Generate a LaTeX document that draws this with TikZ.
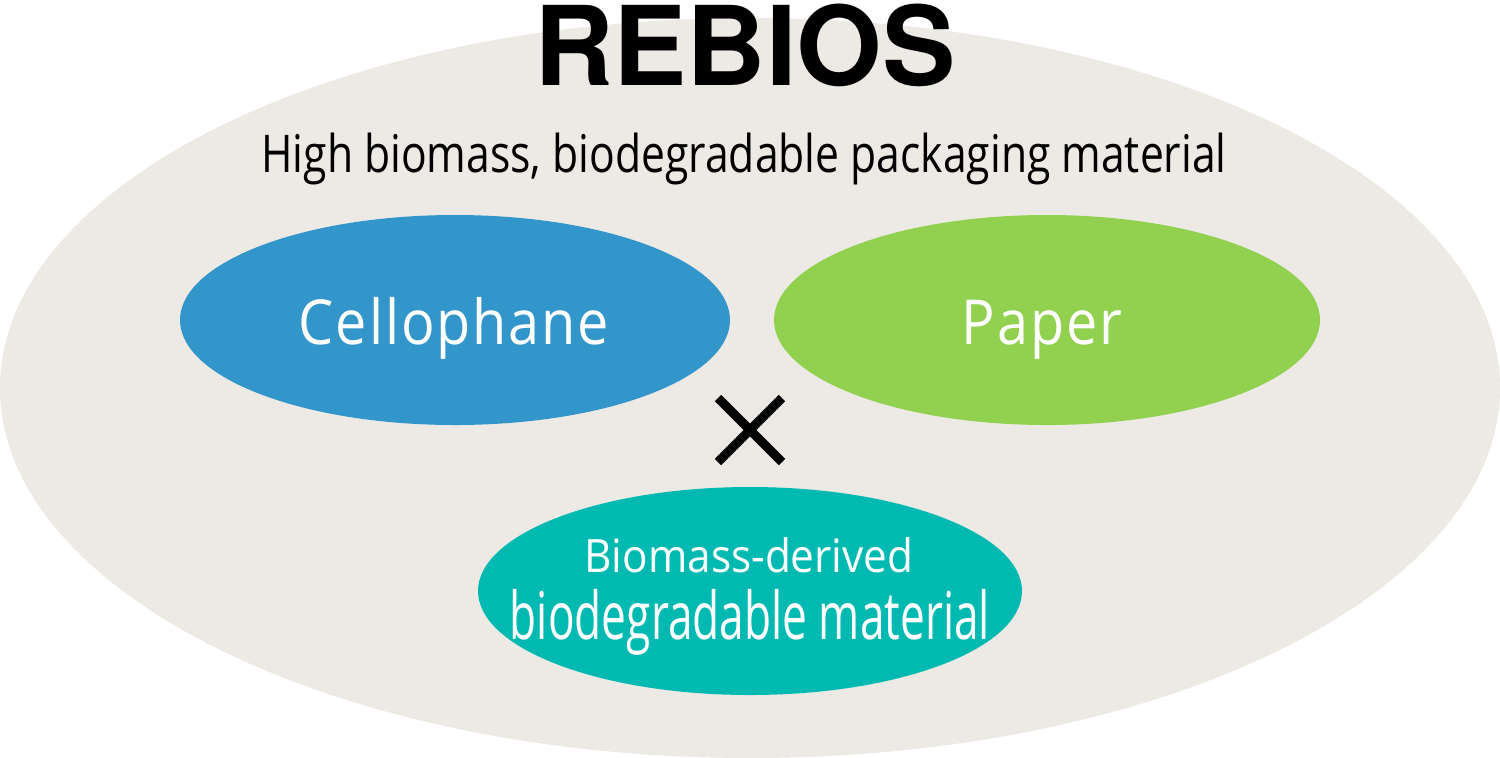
\documentclass[tikz,border=0pt]{standalone}
\usepackage{fontspec}
\setmainfont{Open Sans}
\newfontfamily\headfont{TeX Gyre Heros}
\newfontfamily\condfont[FakeStretch=0.82]{Open Sans}
\newfontfamily\spacedfont[FakeStretch=0.9,LetterSpace=3]{Open Sans}
\newfontfamily\bioupper[FakeStretch=0.92]{Open Sans}
\newfontfamily\biolower[FakeStretch=0.67]{Open Sans}
\usetikzlibrary{shapes.geometric}
\definecolor{shell}{HTML}{EDEAE5}
\definecolor{cello}{HTML}{3396CA}
\definecolor{paper}{HTML}{92D050}
\definecolor{biomat}{HTML}{00BAB2}
\begin{document}
\begin{tikzpicture}[x=0.5pt,y=-0.5pt,
  blob/.style={ellipse,draw=none,inner sep=0pt,minimum width=#1},
  word/.style={anchor=base,inner sep=0pt}]
\useasboundingbox (0,0) rectangle (1500,757);
\node[blob=750pt,fill=shell,minimum height=370pt] (shell) at (750,388) {};
\node[blob=275pt,fill=cello,minimum height=105pt] (cello) at (455,320) {};
\node[blob=273pt,fill=paper,minimum height=105pt] (paper) at (1047,320) {};
\node[blob=272pt,fill=biomat,minimum height=104pt] (bio) at (750,591) {};
\node[word,font=\headfont\bfseries\fontsize{55}{55}\selectfont] (title) at (745,85) {REBIOS};
\node[word,font=\condfont\fontsize{26}{26}\selectfont] (subtitle) at (744,172) {High biomass, biodegradable packaging material};
\node[word,text=white,font=\spacedfont\fontsize{31}{31}\selectfont] (celloText) at (454,344) {Cellophane};
\node[word,text=white,font=\spacedfont\fontsize{31}{31}\selectfont] (paperText) at (1042,344) {Paper};
\node[word,text=white,font=\bioupper\fontsize{23}{23}\selectfont] (bioTop) at (749,572) {Biomass-derived};
\node[word,text=white,font=\biolower\fontsize{33}{33}\selectfont] (bioBottom) at (750,639) {biodegradable material};
\coordinate (cross) at (750,430);
\draw[line width=4.5pt] ([shift={(-32,-32)}]cross) -- ([shift={(32,32)}]cross);
\draw[line width=4.5pt] ([shift={(-32,32)}]cross) -- ([shift={(32,-32)}]cross);
\end{tikzpicture}
\end{document}
